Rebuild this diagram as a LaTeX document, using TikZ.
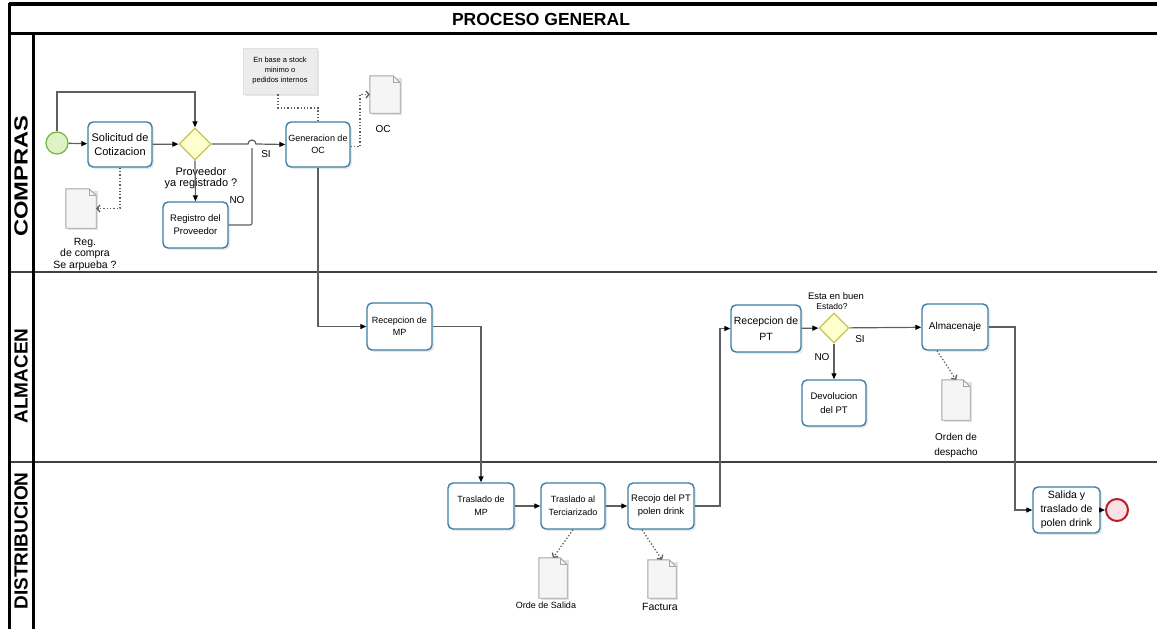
\documentclass[tikz,border=0pt]{standalone}
\usepackage{fontspec}
\setmainfont{Liberation Sans}
\usetikzlibrary{arrows.meta,shadows,shapes.geometric,calc}
\definecolor{taskb}{RGB}{62,126,164}
\definecolor{gatef}{RGB}{255,255,205}
\definecolor{gated}{RGB}{196,196,90}
\definecolor{startf}{RGB}{222,242,196}
\definecolor{startd}{RGB}{112,182,62}
\definecolor{endf}{RGB}{250,226,228}
\definecolor{endd}{RGB}{186,30,44}
\definecolor{flowc}{RGB}{95,95,95}
\definecolor{docd}{RGB}{165,165,165}
\definecolor{annf}{RGB}{236,236,236}
\newcommand{\fs}[2]{\fontsize{#1}{#2}\selectfont}
\tikzset{
  task/.style={rectangle, rounded corners=5pt, draw=taskb, line width=1.4pt, fill=white,
    drop shadow={opacity=.18,shadow xshift=2pt,shadow yshift=-2pt},
    align=center, inner sep=1pt, font=\fs{9.5}{12.5}},
  gate/.style={diamond, aspect=1, draw=gated, fill=gatef, line width=1.3pt, inner sep=0pt},
  startev/.style={circle, draw=startd, fill=startf, line width=1.2pt, minimum size=22pt, inner sep=0pt},
  endev/.style={circle, draw=endd, fill=endf, line width=2pt, minimum size=22pt, inner sep=0pt},
  docbox/.style={rectangle, draw=none, inner sep=0pt},
  flow/.style={draw=flowc, line width=1.2pt, -{Triangle[length=6pt,width=5pt,black]}},
  plain/.style={draw=flowc, line width=1.2pt},
  assoc/.style={draw=flowc, line width=1.3pt, dotted, -{Straight Barb[length=3pt,width=7pt,open]}},
  assocn/.style={draw=flowc, line width=1.3pt, dotted},
  lbl/.style={align=center, inner sep=0pt, font=\fs{10}{12}},
  lane/.style={rotate=90, font=\bfseries\fs{19}{22}, inner sep=0pt}
}
\begin{document}
\begin{tikzpicture}[x=1pt,y=-1pt]
\useasboundingbox (0,0) rectangle (1157,629);
% frame
\draw[line width=1.3pt, black!75] (9,272) -- (1157,272);
\draw[line width=1.3pt, black!75] (9,462) -- (1157,462);
\draw[line width=3.5pt] (9,4) -- (1157,4);
\draw[line width=3pt] (9,33) -- (1157,33);
\draw[line width=3pt] (9,2.5) -- (9,629);
\draw[line width=3pt] (33,33) -- (33,629);
\node[font=\bfseries\fs{17.5}{20}, inner sep=0pt] (title) at (541,19) {PROCESO GENERAL};
\node[lane] (l1) at (21,176) {\scalebox{1.25}[1]{COMPRAS}};
\node[lane] (l2) at (21,376) {ALMACEN};
\node[lane] (l3) at (21,541) {DISTRIBUCION};

% events and gateways
\node[startev] (start) at (57,143) {};
\node[endev] (end) at (1117,510) {};
\node[gate, minimum width=32pt, minimum height=32pt] (g1) at (195,144) {};
\node[gate, minimum width=30pt, minimum height=30pt] (g2) at (834,328) {};

% tasks
\node[task, minimum width=64pt, minimum height=45pt, font=\fs{11}{14}] (sol) at (120,144.5) {Solicitud de\\Cotizacion};
\node[task, minimum width=65pt, minimum height=46pt, font=\fs{9.5}{13}] (reg) at (195.5,225) {Registro del\\Proveedor};
\node[task, minimum width=64pt, minimum height=45pt, font=\fs{9}{12}] (gen) at (318,144.5) {Generacion de\\OC};
\node[task, minimum width=65pt, minimum height=47pt, font=\fs{9}{12}] (rmp) at (399.5,326.5) {Recepcion de\\MP};
\node[task, minimum width=66pt, minimum height=46pt, font=\fs{9}{13}] (tmp) at (481,506) {Traslado de\\MP};
\node[task, minimum width=64pt, minimum height=46pt, font=\fs{9}{13}] (tt) at (573,506) {Traslado al\\Terciarizado};
\node[task, minimum width=66pt, minimum height=46pt, font=\fs{9.5}{13}] (rec) at (661,506) {Recojo del PT\\polen drink};
\node[task, minimum width=70pt, minimum height=47pt, font=\fs{10.5}{16}] (rpt) at (766,328.5) {Recepcion de\\PT};
\node[task, minimum width=64pt, minimum height=46pt, font=\fs{9.5}{14}] (dev) at (834,403) {Devolucion\\del PT};
\node[task, minimum width=66pt, minimum height=46pt, font=\fs{10}{12}] (alm) at (955,327) {Almacenaje};
\node[task, minimum width=67pt, minimum height=46pt, font=\fs{10.5}{14}] (sal) at (1066.5,510) {Salida y\\traslado de\\polen drink};

% annotation
\node[rectangle, fill=annf, draw=black!12, drop shadow={opacity=.2,shadow xshift=2pt,shadow yshift=-2pt},
  minimum width=74pt, minimum height=46pt, align=center, font=\fs{7.5}{10}, inner sep=1pt] (ann) at (280,71)
  {En base a stock\\minimo o\\pedidos internos};

% documents
\node[docbox, minimum width=30pt, minimum height=37pt] (oc) at (385,94.5) {};
\node[docbox, minimum width=30pt, minimum height=39pt] (rd) at (81,208.5) {};
\node[docbox, minimum width=28pt, minimum height=40pt] (od) at (956,400) {};
\node[docbox, minimum width=28pt, minimum height=40pt] (os) at (553,578) {};
\node[docbox, minimum width=28pt, minimum height=38pt] (fac) at (662,579) {};
\foreach \d in {oc,rd,od,os,fac}{
  \fill[black!12] ([xshift=2pt,yshift=-2pt]\d.south west) -- ([xshift=2pt,yshift=-2pt]\d.north west)
     -- ([xshift=2pt,yshift=-2pt]\d.north east) -- ([xshift=2pt,yshift=-2pt]\d.south east) -- cycle;
  \draw[docd, fill=black!4, line width=0.9pt] (\d.south west) -- (\d.north west) -- ([xshift=-7pt]\d.north east)
     -- ([yshift=-7pt]\d.north east) -- (\d.south east) -- cycle;
  \draw[docd, line width=0.9pt] ([xshift=-7pt]\d.north east) -- ([xshift=-7pt,yshift=-7pt]\d.north east) -- ([yshift=-7pt]\d.north east);
}

% labels
\node[lbl, font=\fs{11}{11}] (lg1) at (201,178) {Proveedor\\ya registrado ?};
\node[lbl] (lno1) at (237,200) {NO};
\node[lbl] (lsi1) at (266,154) {SI};
\node[lbl] (loc) at (383,129) {OC};
\node[lbl, font=\fs{10.5}{11.5}] (lrd) at (85,254) {Reg.\\de compra\\Se arpueba ?};
\node[lbl, font=\fs{9.5}{10}] (lg2a) at (836,296) {Esta en buen};
\node[lbl, font=\fs{8.5}{9}] (lg2b) at (832,306.5) {Estado?};
\node[lbl] (lno2) at (822,357) {NO};
\node[lbl] (lsi2) at (860,339) {SI};
\node[lbl, font=\fs{10}{15}] (lod) at (956,445) {Orden de\\despacho};
\node[lbl, font=\fs{9}{10}] (los) at (546,605) {Orde de Salida};
\node[lbl, font=\fs{10.5}{11}] (lfac) at (660,607) {Factura};

% helper coordinates
\coordinate (c3) at (100,92);
\coordinate (hop) at (252,144);
\coordinate (c4) at (300,108);
\coordinate (c5) at (360,0);
\coordinate (c1) at (720,0);
\coordinate (c2) at (1015,0);

% sequence flows
\draw[flow] (start) -- (sol);
\draw[flow] (start.north) |- (c3) -| (g1.north);
\draw[flow] (sol) -- (g1);
\draw[flow] (g1.south) -- (reg.north);
\draw[flow] (g1.east) -- ([xshift=-4pt]hop) arc[start angle=180,end angle=0,radius=4pt] -- (gen.west);
\draw[plain, rounded corners=2pt] (reg.east) -| ([yshift=-4pt]hop);
\draw[flow] (gen.south) |- (rmp.west);
\draw[flow] (rmp.east) -| (tmp.north);
\draw[flow] (tmp) -- (tt);
\draw[flow] (tt) -- (rec);
\draw[flow] (rec.east) -- (rec.east -| c1) |- (rpt.west);
\draw[flow] (rpt) -- (g2);
\draw[flow] (g2) -- (alm);
\draw[flow] (g2.south) -- (dev.north);
\draw[flow] (alm.east) -- (alm.east -| c2) |- (sal.west);
\draw[flow] (sal) -- (end);

% associations
\draw[assocn] ([xshift=-2pt]ann.south) |- (c4) -| (gen.north);
\draw[assoc] ([yshift=-2pt]gen.east) -- ([yshift=-2pt]gen.east -| c5) |- (oc.west);
\draw[assoc] (sol.south) |- (rd.east);
\draw[assoc] ([xshift=-18pt]alm.south) -- (od.north);
\draw[assoc] (tt.south) -- (os.north);
\draw[assoc] ([xshift=-19pt]rec.south) -- (fac.north);
\end{tikzpicture}
\end{document}
